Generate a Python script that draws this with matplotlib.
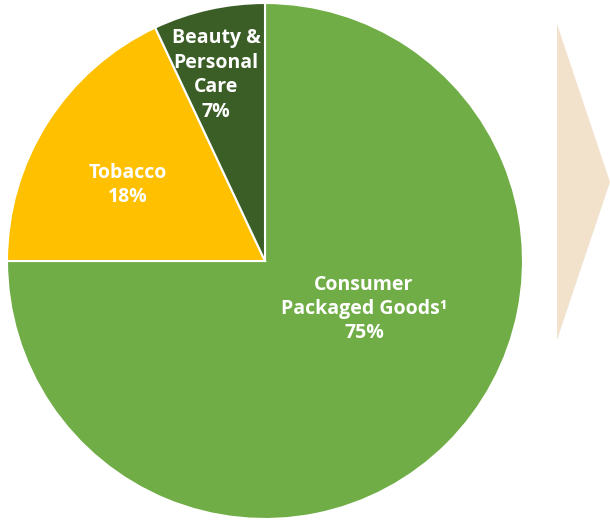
import matplotlib
matplotlib.use("Agg")
import matplotlib.pyplot as plt
from matplotlib.patches import Polygon

labels = ["Consumer\nPackaged Goods\u00b9", "Tobacco", "Beauty &\nPersonal\nCare"]
shares = [75, 18, 7]
colors = ["#70AD47", "#FFC000", "#3B5E26"]

W, H = 610, 523
fig = plt.figure(figsize=(W / 100, H / 100), dpi=100)
ax = fig.add_axes([0, 0, 1, 1])

cx, cy, r = 265, H - 261, 258
wedges, _ = ax.pie(shares, colors=colors, startangle=90, counterclock=False,
                   center=(cx, cy), radius=r, frame=True,
                   wedgeprops=dict(edgecolor="white", linewidth=1.5))
ax.set_xlim(0, W)
ax.set_ylim(0, H)
ax.set_aspect("equal")
ax.axis("off")

# label positions (pixel coords of text centre)
label_pos = [(364, 309), (128, 185), (216, 75)]
font = dict(color="white", fontweight="bold", fontsize=14,
            family=["Open Sans", "DejaVu Sans"], ha="center", va="center",
            linespacing=1.3)
for lab, val, (x, y) in zip(labels, shares, label_pos):
    ax.text(x, H - y, f"{lab}\n{val}%", **font)

# chevron arrow on the right
arrow = Polygon([(557, H - 24), (610, H - 182), (557, H - 340)],
                closed=True, facecolor="#F2E2CC", edgecolor="none")
ax.add_patch(arrow)

fig.savefig("out.png", dpi=100, facecolor="white")
